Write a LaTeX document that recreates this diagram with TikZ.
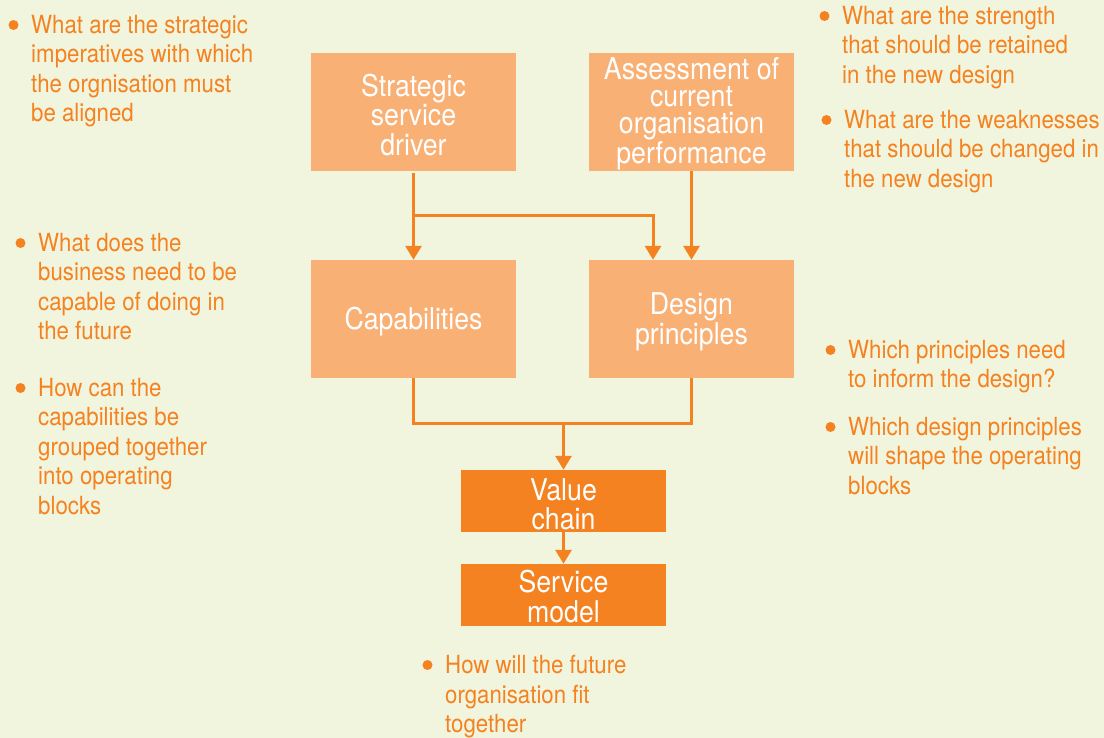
\documentclass[tikz,border=0pt]{standalone}
\usepackage{fontspec}
\setmainfont{TeX Gyre Heros}[FakeStretch=0.89]
\usetikzlibrary{arrows.meta,calc}
\definecolor{bg}{HTML}{F1F5DE}
\definecolor{lightor}{HTML}{F9B074}
\definecolor{darkor}{HTML}{F58220}
\newcommand{\mytopstrut}{\rule{0pt}{28pt}}
\tikzset{
  box/.style={fill=lightor, text=white, minimum width=205pt, minimum height=118pt, inner sep=0pt, align=center, font=\fontsize{30}{29.5}\selectfont},
  darkbox/.style={box, fill=darkor, minimum height=62pt},
  conn/.style={draw=darkor, line width=3pt, -{Triangle[width=16pt,length=14pt]}},
  wire/.style={draw=darkor, line width=3pt},
  txt/.style={anchor=north west, inner sep=0pt, align=left, text=darkor, font=\fontsize{25}{29.5}\selectfont},
  dot/.style={fill=darkor}
}
\begin{document}
\begin{tikzpicture}[x=1pt,y=-1pt]
\fill[bg] (0,0) rectangle (1104,738);
\useasboundingbox (0,0) rectangle (1104,738);

% boxes
\node[box] (sd) at (413.5,112) {\mytopstrut Strategic\\service\\driver};
\node[box, font=\fontsize{30}{27}\selectfont] (as) at (691.5,112) {\rule{0pt}{26pt}Assessment of\\current\\organisation\\performance};
\node[box] (cap) at (413.5,319) {\mytopstrut Capabilities};
\node[box] (dp) at (691.5,319) {\mytopstrut Design\\principles};
\node[darkbox] (vc) at (563.5,501) {\mytopstrut Value\\chain};
\node[darkbox] (sm) at (563.5,595) {\rule{0pt}{25pt}Service\\model};

% connectors
\coordinate (j1) at (413.5,216);
\coordinate (j2) at (563.5,423);
\draw[conn] ([yshift=-2pt]sd.south) -- (cap.north);
\draw[conn] (j1) -| ([xshift=-38.5pt]dp.north);
\draw[conn] (as.south) -- (dp.north);
\draw[wire] (cap.south) |- (j2) -| (dp.south);
\draw[conn] (j2) -- (vc.north);
\draw[conn] (vc.south) -- (sm.north);

% annotations
\node[txt] (t1) at (31,15) {What are the strategic\\imperatives with which\\the orgnisation must\\be aligned};
\node[txt] (t2) at (38,233) {What does the\\business need to be\\capable of doing in\\the future};
\node[txt] (t3) at (38,378) {How can the\\capabilities be\\grouped together\\into operating\\blocks};
\node[txt] (t4) at (842,6) {What are the strength\\that should be retained\\in the new design};
\node[txt] (t5) at (844,110) {What are the weaknesses\\that should be changed in\\the new design};
\node[txt] (t6) at (848,340) {Which principles need\\to inform the design?};
\node[txt] (t7) at (848,417) {Which design principles\\will shape the operating\\blocks};
\node[txt] (t8) at (445,655) {How will the future\\organisation fit\\together};

\foreach \t in {t1,t2,t3,t4,t5,t6,t7,t8}
  \fill[dot] ($(\t.north west)+(-17.5,10)$) circle (5);
\end{tikzpicture}
\end{document}
